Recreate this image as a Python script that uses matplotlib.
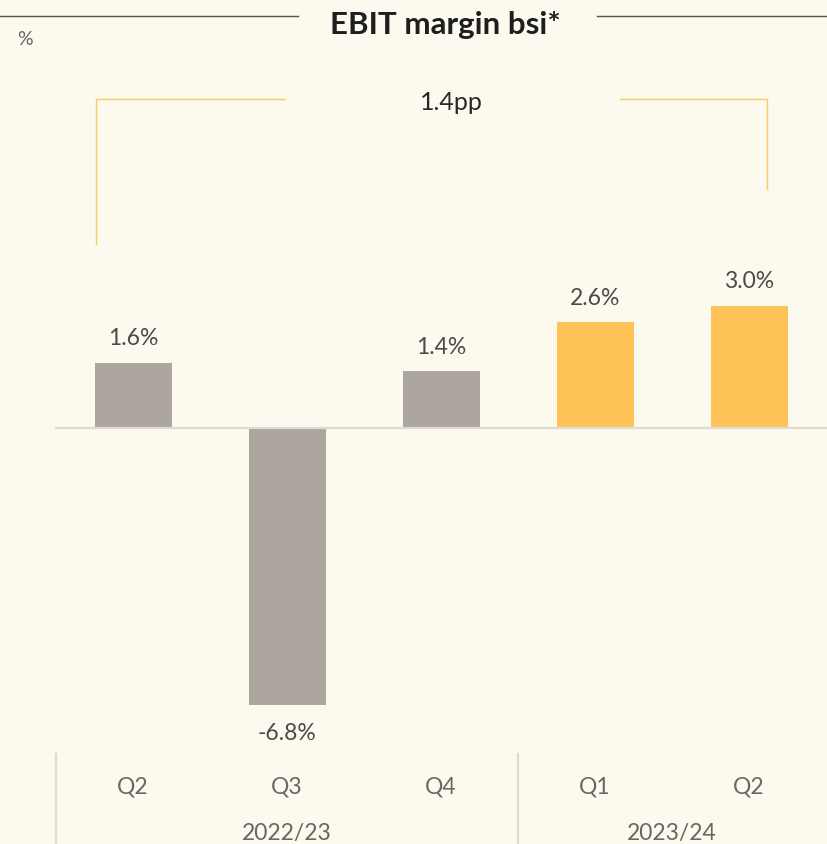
import matplotlib
matplotlib.use("Agg")
import matplotlib.pyplot as plt

# data
quarters = ["Q2", "Q3", "Q4", "Q1", "Q2"]
margins = [1.6, -6.8, 1.4, 2.6, 3.0]
years = ["2022/23", "2023/24"]
year_centers = [1.0, 3.5]
bar_colors = ["#ada69f", "#ada69f", "#ada69f", "#ffc257", "#ffc257"]
delta_label = "1.4pp"

plt.rcParams["font.family"] = ["Lato", "DejaVu Sans"]
bg = "#fcf9ee"

fig = plt.figure(figsize=(8.28, 8.45), dpi=100, facecolor=bg)
ax = fig.add_axes([0, 0, 1, 1])
ax.set_facecolor(bg)
ax.set_xlim(-0.864, 4.513)
ax.set_ylim(-10.22, 10.54)
ax.axis("off")

x = list(range(len(margins)))
ax.bar(x, margins, width=0.5, color=bar_colors, zorder=2)

# zero line
ax.plot([-0.5, 4.513], [0, 0], color="#dedbd5", lw=1.6, zorder=3)

# value labels
for xi, v in zip(x, margins):
    off = 18 if v >= 0 else -20
    ax.annotate(f"{v:.1f}%", (xi, v), xytext=(0, off), textcoords="offset points",
                ha="center", va="center", fontsize=16.5, color="#4d4946")

# category axis
for xi, q in zip(x, quarters):
    ax.text(xi, -8.8, q, ha="center", va="center", fontsize=16.5, color="#6b6661")
for yc, yr in zip(year_centers, years):
    ax.text(yc, -9.93, yr, ha="center", va="center", fontsize=16.5, color="#6b6661")
for sx in [-0.5, 2.5]:
    ax.plot([sx, sx], [-8.0, -10.3], color="#dedbd5", lw=1.6)

# title with rules
ax.text(2.03, 9.93, "EBIT margin bsi*", ha="center", va="center",
        fontsize=22.5, fontweight="bold", color="#1e1e1e")
ax.plot([-0.864, 1.07], [10.12, 10.12], color="#555350", lw=1.0)
ax.plot([3.01, 4.513], [10.12, 10.12], color="#555350", lw=1.0)
ax.text(-0.75, 9.57, "%", ha="left", va="center", fontsize=14, color="#6b6661")

# bracket showing change
top = 8.08
ax.plot([-0.24, -0.24, 0.99], [margins[0] + 2.92, top, top], color="#ffc95e", lw=1.0)
ax.plot([3.16, 4.12, 4.12], [top, top, margins[4] + 2.87], color="#ffc95e", lw=1.0)
ax.text(2.07, top - 0.05, delta_label, ha="center", va="center", fontsize=18, color="#2a2826")

fig.savefig("out.png", dpi=100, facecolor=bg)
